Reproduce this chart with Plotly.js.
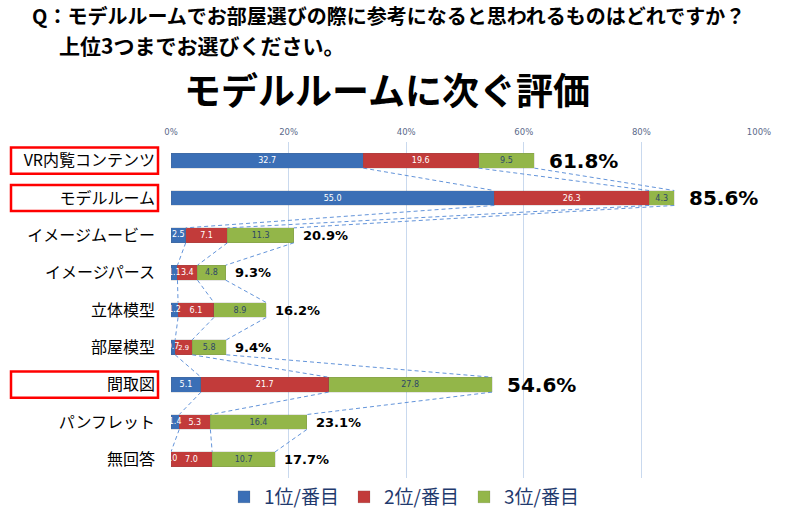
<!DOCTYPE html>
<html>
<head>
<meta charset="utf-8">
<script src="https://cdn.plot.ly/plotly-3.0.1.min.js"></script>
<style>html,body{margin:0;padding:0;background:#fff;}#chart{width:800px;height:519px;}</style>
</head>
<body>
<div id="chart"></div>
<script>
const categories = ["VR内覧コンテンツ","モデルルーム","イメージムービー","イメージパース","立体模型","部屋模型","間取図","パンフレット","無回答"];
const rank1 = [32.7, 55.0, 2.5, 1.1, 1.2, 0.7, 5.1, 1.4, 0.0];
const rank2 = [19.6, 26.3, 7.1, 3.4, 6.1, 2.9, 21.7, 5.3, 7.0];
const rank3 = [9.5, 4.3, 11.3, 4.8, 8.9, 5.8, 27.8, 16.4, 10.7];
const totals = [61.8, 85.6, 20.9, 9.3, 16.2, 9.4, 54.6, 23.1, 17.7];
const highlighted = ["VR内覧コンテンツ","モデルルーム","間取図"];
const seriesNames = ["1位/番目","2位/番目","3位/番目"];
const tickVals = [0,20,40,60,80,100];
const questionLine1 = "Q：モデルルームでお部屋選びの際に参考になると思われるものはどれですか？";
const questionLine2 = "上位3つまでお選びください。";
const mainTitle = "モデルルームに次ぐ評価";

const idx = categories.map((c,i)=>i);
const barW = 0.4;
const colors = ["#3b6fb6","#c23b3a","#93b649"];
const txtColors = ["#ffffff","#ffffff","#2e4768"];
const series = [rank1, rank2, rank3];
const smallLimit = 3; // segments narrower than this get an overflowing label

const traces = series.map((vals,k)=>({
  type:'bar', orientation:'h', name:seriesNames[k],
  x: vals, y: idx, width: barW,
  marker:{color:colors[k], line:{color:'rgba(90,90,90,0.25)', width:0.6}},
  text: vals.map(v => (k>0 || v >= smallLimit) ? v.toFixed(1) : ''),
  textposition:'inside', insidetextanchor:'middle', textangle:0,
  textfont:{family:'DejaVu Sans', size:9, color:txtColors[k]},
  hoverinfo:'skip'
}));

// labels of very thin first-rank segments (overflowing, clipped at the axis like the original)
const smallIdx = idx.filter(i => rank1[i] < smallLimit);
traces.push({type:'scatter', mode:'text', showlegend:false, hoverinfo:'skip', cliponaxis:true,
  x: smallIdx.map(i => rank1[i]/2), y: smallIdx,
  text: smallIdx.map(i => rank1[i].toFixed(1)),
  textposition:'middle center',
  textfont:{family:'DejaVu Sans', size:8, color:'#ffffff'}});

// series (connector) lines
const cum = [[],[],[]];
idx.forEach(i=>{ cum[0].push(rank1[i]); cum[1].push(rank1[i]+rank2[i]); cum[2].push(rank1[i]+rank2[i]+rank3[i]); });
for(let k=0;k<3;k++){
  const xs=[], ys=[];
  for(let i=0;i<categories.length-1;i++){
    xs.push(cum[k][i], cum[k][i+1], null);
    ys.push(i+barW/2, i+1-barW/2, null);
  }
  traces.push({type:'scatter', mode:'lines', x:xs, y:ys, showlegend:false, hoverinfo:'skip',
    line:{color:'#6394da', width:1, dash:'4px,3px'}, connectgaps:false});
}

const annotations = [];
idx.forEach(i=>{
  const big = highlighted.includes(categories[i]);
  annotations.push({x: totals[i], y: i, xref:'x', yref:'y', text: totals[i].toFixed(1)+'%',
    showarrow:false, xanchor:'left', xshift: big?13:7,
    font:{family:'DejaVu Sans', size: big?20:13, color:'#000', weight:'bold'}});
});
const px2x = p => (p-171)/588;
const py2y = p => (478-p)/336;
annotations.push({xref:'paper', yref:'paper', x:px2x(30), y:py2y(15), xanchor:'left', yanchor:'middle', showarrow:false,
  text:questionLine1, font:{family:'Noto Sans CJK JP', size:20, color:'#000', weight:'bold'}});
annotations.push({xref:'paper', yref:'paper', x:px2x(57), y:py2y(45), xanchor:'left', yanchor:'middle', showarrow:false,
  text:questionLine2, font:{family:'Noto Sans CJK JP', size:21, color:'#000', weight:'bold'}});
annotations.push({xref:'paper', yref:'paper', x:px2x(387), y:py2y(89), xanchor:'center', yanchor:'middle', showarrow:false,
  text:mainTitle, font:{family:'Noto Sans CJK JP', size:37, color:'#000', weight:'bold'}});

const shapes = [];
idx.forEach(i=>{
  if(highlighted.includes(categories[i])){
    shapes.push({type:'rect', xref:'paper', yref:'y', x0:px2x(11), x1:px2x(158), y0:i-0.35, y1:i+0.35,
      line:{color:'#ff0000', width:2.5}, fillcolor:'rgba(0,0,0,0)', layer:'above'});
  }
});

const layout = {
  width:800, height:519,
  margin:{l:171, r:41, t:142, b:41, autoexpand:false},
  paper_bgcolor:'#fff', plot_bgcolor:'#fff',
  barmode:'stack', bargap:0,
  showlegend:true,
  legend:{orientation:'h', x:px2x(404), xanchor:'center', y:0.0, yanchor:'top',
    font:{family:'Noto Sans CJK JP', size:19, color:'#1f3a6e'}, traceorder:'normal', itemwidth:30},
  xaxis:{side:'top', range:[0,100], tickvals:tickVals, ticktext:tickVals.map(v=>v+'%'),
    showgrid:true, gridcolor:'#c9d9ee', gridwidth:1, zeroline:false, showline:false, ticks:'',
    tickfont:{family:'DejaVu Sans', size:8.5, color:'#5b6a8a'}, ticklabelstandoff:4, fixedrange:true},
  yaxis:{range:[8.5,-0.5], tickvals:idx, ticktext:categories, showgrid:false, zeroline:false,
    showline:false, ticks:'', ticklabelstandoff:15,
    tickfont:{family:'Noto Sans CJK JP', size:16, color:'#000'}, fixedrange:true},
  annotations: annotations,
  shapes: shapes,
  font:{family:'Noto Sans CJK JP'}
};

Plotly.newPlot('chart', traces, layout, {displayModeBar:false, staticPlot:true});
</script>
</body>
</html>
